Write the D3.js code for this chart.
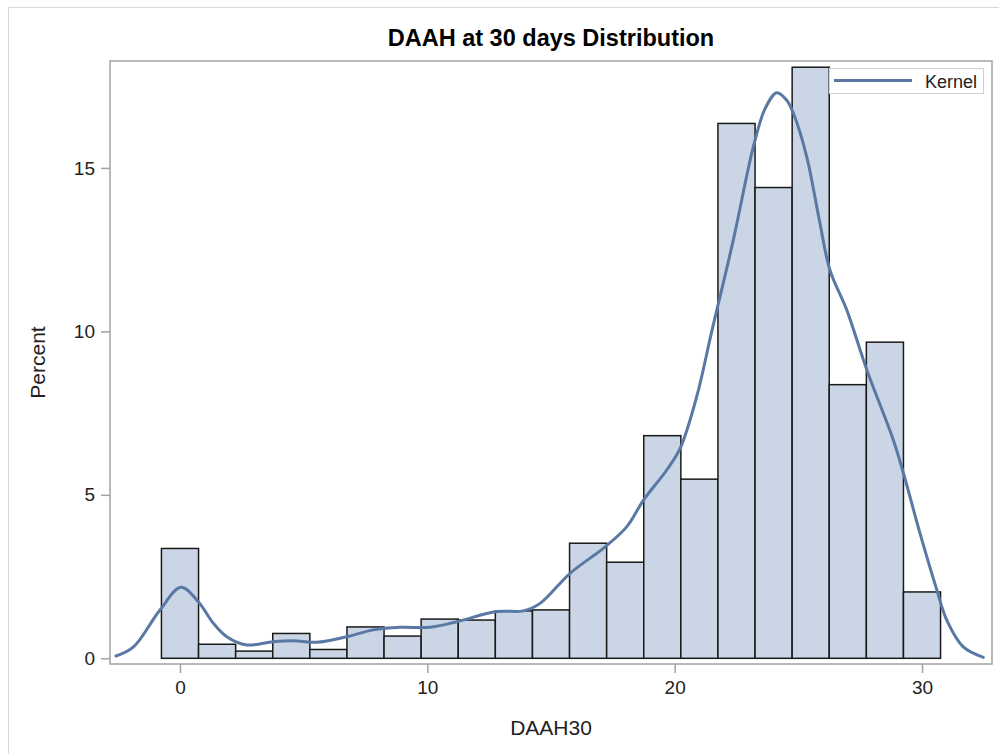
<!DOCTYPE html>
<html>
<head>
<meta charset="utf-8">
<script src="https://cdn.jsdelivr.net/npm/d3@7"></script>
<style>
  html, body { margin: 0; padding: 0; background: #fff; }
  svg { display: block; font-family: "Liberation Sans", Arial, sans-serif; }
</style>
</head>
<body>
<svg id="chart" width="999" height="754"></svg>
<script>
// ---- data ----
const binCenters = [0, 1.5, 3, 4.5, 6, 7.5, 9, 10.5, 12, 13.5, 15, 16.5, 18, 19.5, 21, 22.5, 24, 25.5, 27, 28.5, 30];
const binPercents = [3.36, 0.43, 0.22, 0.76, 0.27, 0.96, 0.68, 1.20, 1.17, 1.45, 1.48, 3.52, 2.94, 6.81, 5.48, 16.36, 14.40, 18.08, 8.37, 9.67, 2.03];
const binWidth = 1.5;

const kernelX = [-2.59, -1.89, -0.81, 0.04, 0.74, 1.35, 1.89, 2.70, 3.77, 4.58, 5.53, 6.74, 7.82, 8.9, 10.1, 11.19, 12.8, 13.88, 14.56, 15.77, 17.19, 18.06, 18.74, 19.68, 20.22, 20.89, 21.5, 22.37, 23.18, 23.66, 24.13, 24.53, 24.8, 25.34, 25.85, 26.28, 26.96, 27.77, 28.84, 29.25, 29.92, 30.6, 31.0, 31.67, 32.48];
const kernelY = [0.07, 0.34, 1.48, 2.17, 1.73, 1.07, 0.66, 0.41, 0.51, 0.54, 0.49, 0.66, 0.87, 0.95, 0.95, 1.12, 1.43, 1.45, 1.68, 2.6, 3.41, 4.02, 4.84, 5.76, 6.42, 8.0, 10.0, 12.79, 15.64, 16.82, 17.3, 17.07, 16.67, 15.34, 13.4, 11.87, 10.65, 8.82, 6.68, 5.66, 3.82, 2.09, 1.17, 0.35, 0.03];

const xTicks = [0, 10, 20, 30];
const yTicks = [0, 5, 10, 15];

const titleText = "DAAH at 30 days Distribution";
const xLabel = "DAAH30";
const yLabel = "Percent";
const legendLabel = "Kernel";

// ---- layout ----
const svg = d3.select("#chart");
const plot = { left: 110, top: 61, right: 992, bottom: 664 };

const x = d3.scaleLinear().domain([-2.83, 32.83]).range([plot.left, plot.right]);
const y = d3.scaleLinear().domain([-0.174, 18.27]).range([plot.bottom, plot.top]);

// outer border
svg.append("rect")
  .attr("x", 8.5).attr("y", 7.5).attr("width", 1000).attr("height", 760)
  .attr("fill", "none").attr("stroke", "#d9d9d9").attr("stroke-width", 1);

// title
svg.append("text")
  .attr("x", (plot.left + plot.right) / 2).attr("y", 46)
  .attr("text-anchor", "middle")
  .attr("font-size", 23.5).attr("font-weight", "bold").attr("fill", "#000")
  .text(titleText);

// clip
svg.append("clipPath").attr("id", "clip")
  .append("rect").attr("x", plot.left).attr("y", plot.top)
  .attr("width", plot.right - plot.left).attr("height", plot.bottom - plot.top);

const g = svg.append("g").attr("clip-path", "url(#clip)");

// bars
g.selectAll("rect.bar")
  .data(binCenters.map((c, i) => ({ c, v: binPercents[i] })))
  .join("rect")
  .attr("class", "bar")
  .attr("x", d => x(d.c - binWidth / 2))
  .attr("width", d => x(d.c + binWidth / 2) - x(d.c - binWidth / 2))
  .attr("y", d => y(d.v))
  .attr("height", d => y(0) - y(d.v))
  .attr("fill", "#cad5e5")
  .attr("stroke", "#1a1a1a")
  .attr("stroke-width", 1.5);

// kernel
const line = d3.line()
  .x(d => x(d[0]))
  .y(d => y(d[1]))
  .curve(d3.curveCatmullRom.alpha(0.5));

g.append("path")
  .datum(kernelX.map((kx, i) => [kx, kernelY[i]]))
  .attr("d", line)
  .attr("fill", "none")
  .attr("stroke", "#5a78a4")
  .attr("stroke-width", 3)
  .attr("stroke-linejoin", "round")
  .attr("stroke-linecap", "round");

// frame
svg.append("rect")
  .attr("x", plot.left).attr("y", plot.top)
  .attr("width", plot.right - plot.left).attr("height", plot.bottom - plot.top)
  .attr("fill", "none").attr("stroke", "#a3a3a3").attr("stroke-width", 1.5);

// x axis
const xAxis = d3.axisBottom(x).tickValues(xTicks).tickSize(9).tickPadding(8).tickFormat(d3.format("d"));
const gx = svg.append("g").attr("transform", `translate(0,${plot.bottom})`).call(xAxis);
gx.select(".domain").remove();
gx.selectAll(".tick line").attr("stroke", "#a3a3a3").attr("stroke-width", 1.5);
gx.selectAll(".tick text").attr("font-size", 19).attr("fill", "#222")
  .attr("font-family", "'Liberation Sans', Arial, sans-serif");

// y axis
const yAxis = d3.axisLeft(y).tickValues(yTicks).tickSize(9).tickPadding(6).tickFormat(d3.format("d"));
const gy = svg.append("g").attr("transform", `translate(${plot.left},0)`).call(yAxis);
gy.select(".domain").remove();
gy.selectAll(".tick line").attr("stroke", "#a3a3a3").attr("stroke-width", 1.5);
gy.selectAll(".tick text").attr("font-size", 19).attr("fill", "#222")
  .attr("font-family", "'Liberation Sans', Arial, sans-serif");

// axis labels
svg.append("text")
  .attr("x", (plot.left + plot.right) / 2).attr("y", 735)
  .attr("text-anchor", "middle").attr("font-size", 21).attr("fill", "#222")
  .text(xLabel);

svg.append("text")
  .attr("transform", `translate(45,${(plot.top + plot.bottom) / 2}) rotate(-90)`)
  .attr("text-anchor", "middle").attr("font-size", 21).attr("fill", "#222")
  .text(yLabel);

// legend
const lg = svg.append("g");
lg.append("rect")
  .attr("x", 829.5).attr("y", 68.5).attr("width", 154).attr("height", 25)
  .attr("fill", "#fff").attr("stroke", "#cfcfcf").attr("stroke-width", 1);
lg.append("line")
  .attr("x1", 834).attr("x2", 912).attr("y1", 80.5).attr("y2", 80.5)
  .attr("stroke", "#5a78a4").attr("stroke-width", 3);
lg.append("text")
  .attr("x", 977).attr("y", 87.5).attr("text-anchor", "end")
  .attr("font-size", 18).attr("fill", "#222")
  .text(legendLabel);
</script>
</body>
</html>
